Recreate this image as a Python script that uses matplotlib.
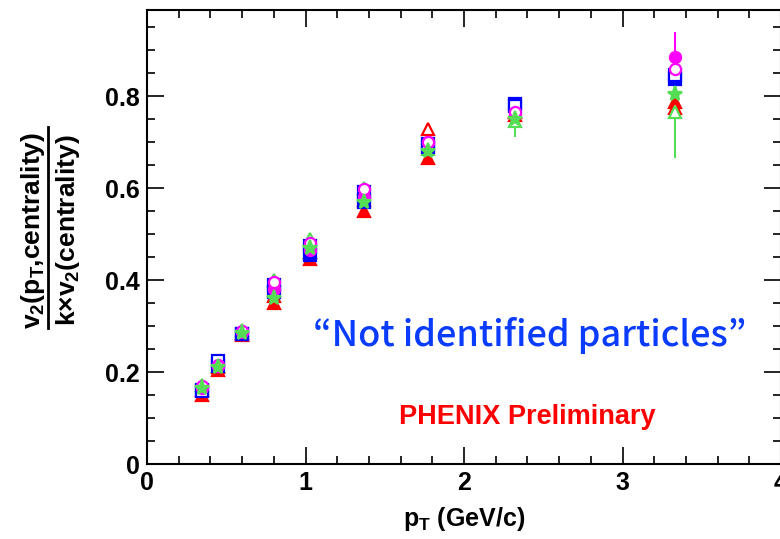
import matplotlib
matplotlib.use("Agg")
import matplotlib.pyplot as plt
from matplotlib.ticker import MultipleLocator

plt.rcParams['font.family'] = ['Liberation Sans', 'DejaVu Sans']
plt.rcParams['font.weight'] = 'bold'
plt.rcParams['axes.labelweight'] = 'bold'
plt.rcParams['mathtext.fontset'] = 'custom'
plt.rcParams['mathtext.rm'] = 'Liberation Sans:bold'
plt.rcParams['mathtext.it'] = 'Liberation Sans:bold'
plt.rcParams['mathtext.bf'] = 'Liberation Sans:bold'
plt.rcParams['mathtext.default'] = 'bf'

# pT bins (GeV/c)
pt = [0.35, 0.45, 0.6, 0.8, 1.03, 1.37, 1.77, 2.32, 3.33]

# v2 / (k * v2) for each centrality class
red_fill = [0.150, 0.205, 0.280, 0.350, 0.445, 0.550, 0.665, 0.758, 0.787]
red_open = [0.160, 0.210, 0.285, 0.365, 0.460, 0.575, 0.728, 0.765, 0.775]
blue_fill = [0.160, 0.212, 0.283, 0.375, 0.455, 0.570, 0.690, 0.782, 0.838]
blue_open = [0.158, 0.225, 0.282, 0.390, 0.475, 0.592, 0.695, 0.778, 0.846]
mag_fill = [0.165, 0.215, 0.288, 0.380, 0.465, 0.580, 0.700, 0.760, 0.885]
mag_open = [0.170, 0.214, 0.290, 0.395, 0.480, 0.597, 0.700, 0.765, 0.858]
green_fill = [0.165, 0.210, 0.285, 0.360, 0.470, 0.570, 0.680, 0.750, 0.805]
green_open = [0.172, 0.212, 0.292, 0.400, 0.490, 0.600, 0.685, 0.745, 0.765]

# statistical errors
red_fill_err = [0.004, 0.004, 0.004, 0.005, 0.006, 0.007, 0.009, 0.012, 0.02]
red_open_err = [0.004, 0.004, 0.004, 0.005, 0.006, 0.007, 0.009, 0.012, 0.02]
blue_fill_err = [0.004, 0.004, 0.004, 0.005, 0.006, 0.007, 0.009, 0.012, 0.04]
blue_open_err = [0.004, 0.004, 0.004, 0.005, 0.006, 0.007, 0.009, 0.012, 0.03]
mag_fill_err = [0.004, 0.004, 0.004, 0.005, 0.006, 0.007, 0.009, 0.03, 0.055]
mag_open_err = [0.004, 0.004, 0.004, 0.005, 0.006, 0.007, 0.009, 0.015, 0.03]
green_fill_err = [0.004, 0.004, 0.004, 0.005, 0.006, 0.007, 0.009, 0.02, 0.03]
green_open_err = [0.004, 0.004, 0.004, 0.005, 0.006, 0.007, 0.012, 0.035, 0.10]

series = [
    (red_fill, red_fill_err, 'red', '^', True),
    (red_open, red_open_err, 'red', '^', False),
    (green_open, green_open_err, '#55dd55', '^', False),
    (blue_fill, blue_fill_err, 'blue', 's', True),
    (blue_open, blue_open_err, 'blue', 's', False),
    (mag_fill, mag_fill_err, 'magenta', 'o', True),
    (mag_open, mag_open_err, 'magenta', 'o', False),
    (green_fill, green_fill_err, '#55dd55', '*', True),
]

fig = plt.figure(figsize=(7.8, 5.39), dpi=100)
ax = fig.add_axes([147 / 780, 1 - 464 / 539, 634 / 780, 454 / 539])

for vals, errs, col, mk, filled in series:
    ax.errorbar(pt, vals, yerr=errs, fmt=mk, color=col, ms=8 if mk != '*' else 11,
                mfc=col if filled else 'white', mec=col, mew=1.6,
                elinewidth=1.5, capsize=0, zorder=3)

ax.set_xlim(0, 4)
ax.set_ylim(0, 0.987)
ax.xaxis.set_major_locator(MultipleLocator(1))
ax.xaxis.set_minor_locator(MultipleLocator(0.2))
ax.yaxis.set_major_locator(MultipleLocator(0.2))
ax.yaxis.set_minor_locator(MultipleLocator(0.05))
ax.xaxis.set_major_formatter(plt.FuncFormatter(lambda v, p: '%g' % v))
ax.yaxis.set_major_formatter(plt.FuncFormatter(lambda v, p: '%g' % v))
ax.tick_params(which='both', direction='in', top=True, right=True,
               labelsize=18, width=1.2)
ax.tick_params(which='major', length=12, pad=5)
ax.tick_params(which='minor', length=6)
for s in ax.spines.values():
    s.set_linewidth(1.5)

ax.set_xlabel(r'p$_T$ (GeV/c)', fontsize=18, labelpad=7)

# y label drawn as a fraction
fig.text(33 / 780, 1 - 230 / 539, r'v$_2$(p$_T$,centrality)', rotation=90,
         ha='center', va='center', fontsize=19)
fig.text(68 / 780, 1 - 230 / 539, r'k$\times$v$_2$(centrality)', rotation=90,
         ha='center', va='center', fontsize=19)
fig.add_artist(plt.Line2D([48 / 780, 48 / 780], [1 - 127 / 539, 1 - 328 / 539],
                          color='black', lw=2, transform=fig.transFigure))

fig.text(530 / 780, 1 - 336 / 539, '\u201cNot identified particles\u201d',
         ha='center', va='center', fontsize=26, color='#0a3cff',
         family=['Noto Sans CJK JP', 'DejaVu Sans'], weight='medium')
fig.text(527 / 780, 1 - 417 / 539, 'PHENIX Preliminary', ha='center', va='center',
         fontsize=19.5, color='red')

fig.savefig('out.png', dpi=100)
